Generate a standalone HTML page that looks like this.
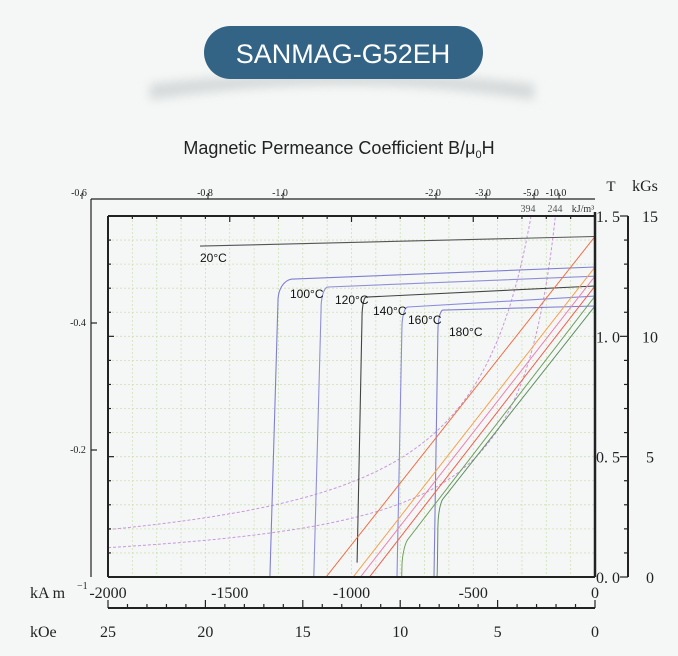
<!DOCTYPE html>
<html><head><meta charset="utf-8"><style>
html,body{margin:0;padding:0;background:#f5f7f7;}
svg{display:block;font-family:"Liberation Serif",serif;}
</style></head><body>
<svg id="c" width="678" height="656" viewBox="0 0 678 656" xmlns="http://www.w3.org/2000/svg">
<defs><filter id="bl" x="-20%" y="-50%" width="140%" height="200%"><feGaussianBlur stdDeviation="5"/></filter></defs>
<rect width="678" height="656" fill="#f5f7f7"/>
<path d="M150,100 Q342,70 534,100 L534,84 Q342,62 150,84 Z" fill="#d6d9d9" filter="url(#bl)"/>
<rect x="204" y="26" width="279" height="53" rx="26.5" fill="#336486"/>
<text x="343" y="63" text-anchor="middle" fill="#fff" font-family="Liberation Sans,sans-serif" font-size="27">SANMAG-G52EH</text>
<text x="339" y="154" text-anchor="middle" fill="#222" font-family="Liberation Sans,sans-serif" font-size="18">Magnetic Permeance Coefficient B/μ<tspan font-size="11" dy="4">0</tspan><tspan dy="-4">H</tspan></text>
<g id="grid"></g>
<g id="series"></g>
<g id="axes"></g>
</svg>
<script>
const NS="http://www.w3.org/2000/svg";
// data
const temps=["20°C","100°C","120°C","140°C","160°C","180°C"];
const jAtZero=[1.415,1.288,1.25,1.209,1.167,1.126];
const jAtKnee=[1.375,1.238,1.205,1.163,1.122,1.109];
const hKnee=[-1622,-1240,-1096,-940,-768,-624];
const hVertical=[null,-1302,-1125,-957,-793,-645];
const hAtZeroB=[null,-1335,-1155,-977,-813,-661];
const energyProducts=[394,244];
const xTicks=[-2000,-1500,-1000,-500,0];
const oeTicks=[25,20,15,10,5,0];
const tTicks=[0,0.5,1.0,1.5];
const kgsTicks=[0,5,10,15];
const permTop=["-0.6","-0.8","-1.0","-2.0","-3.0","-5.0","-10.0"];
const permTopX=[79,205,280,433,483,531,556];
const jColors=["#555","#7f7fd0","#9090d4","#444","#8a8ade","#8080cc"];
const bColors=["#f07048","#f8a050","#f080b0","#f06050","#70a060","#5f9060"];

const X0=108,X1=595,Y0=577,Y1=216;
const sx=h=>X1+(h/2000)*(X1-X0);
const sy=b=>Y0-(b/1.5)*(Y0-Y1);
const mu0=0.0012566;
const KD=0.09;
function el(tag,attrs,parent){const e=document.createElementNS(NS,tag);for(const k in attrs)e.setAttribute(k,attrs[k]);parent.appendChild(e);return e;}
const grid=document.getElementById('grid'),series=document.getElementById('series'),axes=document.getElementById('axes');

for(let h=-1900;h<0;h+=100){const g=el('line',{x1:sx(h),x2:sx(h),y1:Y1,y2:Y0,stroke:'#cfe0b4','stroke-width':0.8,'stroke-dasharray':'2,2'},grid);

}
for(let b=0.1;b<1.5;b+=0.1){const g=el('line',{x1:X0,x2:X1,y1:sy(b),y2:sy(b),stroke:'#cfe0b4','stroke-width':0.8,'stroke-dasharray':'2,2'},grid);

}

function jPath(i){
 let p=[];
 if(hVertical[i]===null){p.push([hKnee[i],jAtKnee[i]],[0,jAtZero[i]]);}
 else{
  p.push([hAtZeroB[i],0]);
  const jv=jAtKnee[i]-KD;p.push([hVertical[i],jv]);
  for(let k=1;k<=24;k++){const ang=(k/24)*Math.PI/2;
   p.push([hVertical[i]+(hKnee[i]-hVertical[i])*(1-Math.cos(ang)),jv+KD*Math.sin(ang)]);}
  p.push([0,jAtZero[i]]);
 }
 return p;
}
function jAt(i,h){
 const p=jPath(i);
 for(let k=p.length-2;k>=0;k--){const a=p[k],b=p[k+1];if(h>=Math.min(a[0],b[0])&&h<=Math.max(a[0],b[0])){const t=(h-a[0])/((b[0]-a[0])||1);return a[1]+t*(b[1]-a[1]);}}
 return null;
}
energyProducts.forEach((e,i)=>{
 let pts=[];for(let h=-2000;h<=-e/1.5;h+=5){pts.push(sx(h).toFixed(1)+','+sy(-e/h).toFixed(1));}
 pts.push(sx(-e/1.5).toFixed(1)+','+sy(1.5).toFixed(1));
 const l=el('polyline',{points:pts.join(' '),fill:'none',stroke:'#c896d8','stroke-width':1,'stroke-dasharray':'3,2'},series);
 
 
});
temps.forEach((t,i)=>{
 const p=jPath(i);
 let pts=p.map(q=>sx(q[0]).toFixed(1)+','+sy(i===3?Math.max(q[1],0.06):q[1]).toFixed(1));
 const l=el('polyline',{points:pts.join(' '),fill:'none',stroke:jColors[i],'stroke-width':1.1},series);
 
 
});
temps.forEach((t,i)=>{
 let pts=[];
 for(let h=0;h>=-2000;h-=1){
  let j=jAt(i,h);
  if(j===null)break;
  const b=j+mu0*h;
  if(b<=0){pts.push(sx(h).toFixed(1)+','+sy(0));break;}
  pts.push(sx(h).toFixed(1)+','+sy(b).toFixed(1));
 }
 const l=el('polyline',{points:pts.join(' '),fill:'none',stroke:bColors[i],'stroke-width':1},series);
 
 
});
const labelX=[200,290,335,373,408,449],labelY=[262,298,304,315,324,336];
temps.forEach((t,i)=>{
 const tx=el('text',{x:labelX[i],y:labelY[i],'font-family':'Liberation Sans,sans-serif','font-size':12,fill:'#111'},series);
 tx.textContent=t;
 
 
});
function line(x1,y1,x2,y2,w,name,c){const l=el('line',{x1,y1,x2,y2,stroke:c||'#222','stroke-width':w},axes);

return l;}
line(91,199,595,199,1.2,'permeance-top-line');
line(91,199,91,577,1.2,'permeance-left-line');
line(X0,Y1,X1,Y1,2,'plot-top-border');
line(X0,Y1,X0,Y0,2,'plot-left-border');
line(X0,Y0,X1,Y0,2,'plot-bottom-border');
line(X1,Y1-4,X1,Y0,2.5,'tesla-axis');
line(628,Y1,628,Y0,2,'kgs-axis');
line(X0,608,X1,608,2,'koe-axis');
for(let b=0;b<=1.5001;b+=0.1){const maj=Math.abs(b*2-Math.round(b*2))<1e-6;
 line(X0,sy(b),X0+(maj?6:3),sy(b),1.2,'left-tick');
 line(628-(maj?8:4),sy(b),628,sy(b),1.2,'kgs-tick');}
for(let h=-2000;h<=0;h+=100){line(sx(h),Y1,sx(h),Y1+(h%500===0?6:3),1.2,'top-tick');}
for(let k=0;k<=25;k++){const x=X1-k*(X1-X0)/25;line(x,608,x,608-(k%5===0?8:4),1.2,'oe-tick');}
line(91,323,97,323,1.2,'perm-left-tick');line(91,450,97,450,1.2,'perm-left-tick');
permTopX.forEach((x,i)=>{line(x+3,199,x+3,193,1,'perm-top-tick');});

function txt(s,x,y,size,anchor,name,fam,col){const t=el('text',{x,y,'font-size':size,'text-anchor':anchor||'start',fill:col||'#222'},axes);
if(fam)t.setAttribute('font-family',fam);t.textContent=s;

return t;}
xTicks.forEach(h=>txt(h===0?'0':'-'+Math.abs(h),sx(h),598,16,'middle','x-tick-label'));
oeTicks.forEach(o=>txt(String(o),X1-o*(X1-X0)/25,637,16,'middle','oe-tick-label'));
tTicks.forEach(b=>txt(b.toFixed(1).replace('.','. '),596,sy(b)+6,16,'start','tesla-tick-label'));
kgsTicks.forEach(k=>txt(String(k),650,sy(k/10)+6,16,'middle','kgs-tick-label'));
permTop.forEach((s,i)=>txt(s,permTopX[i],196,10,'middle','permeance-top-label'));
txt('-0.4',78,326,10,'middle','permeance-left-label');
txt('-0.2',78,453,10,'middle','permeance-left-label');
txt('394',528,212,10,'middle','energy-label-394',null,'#555');
txt('244',555,212,10,'middle','energy-label-244',null,'#555');
txt('kJ/m³',583,212,10,'middle','energy-unit',null,'#333');
txt('T',611,191,15,'middle','tesla-unit');
txt('kGs',645,191,16,'middle','kgs-unit');
txt('kA m',30,598,16,'start','x-axis-unit');
txt('−1',77,589,10,'start','x-axis-unit-exp');
txt('kOe',30,637,16,'start','oe-axis-unit');
</script>
</body></html>
